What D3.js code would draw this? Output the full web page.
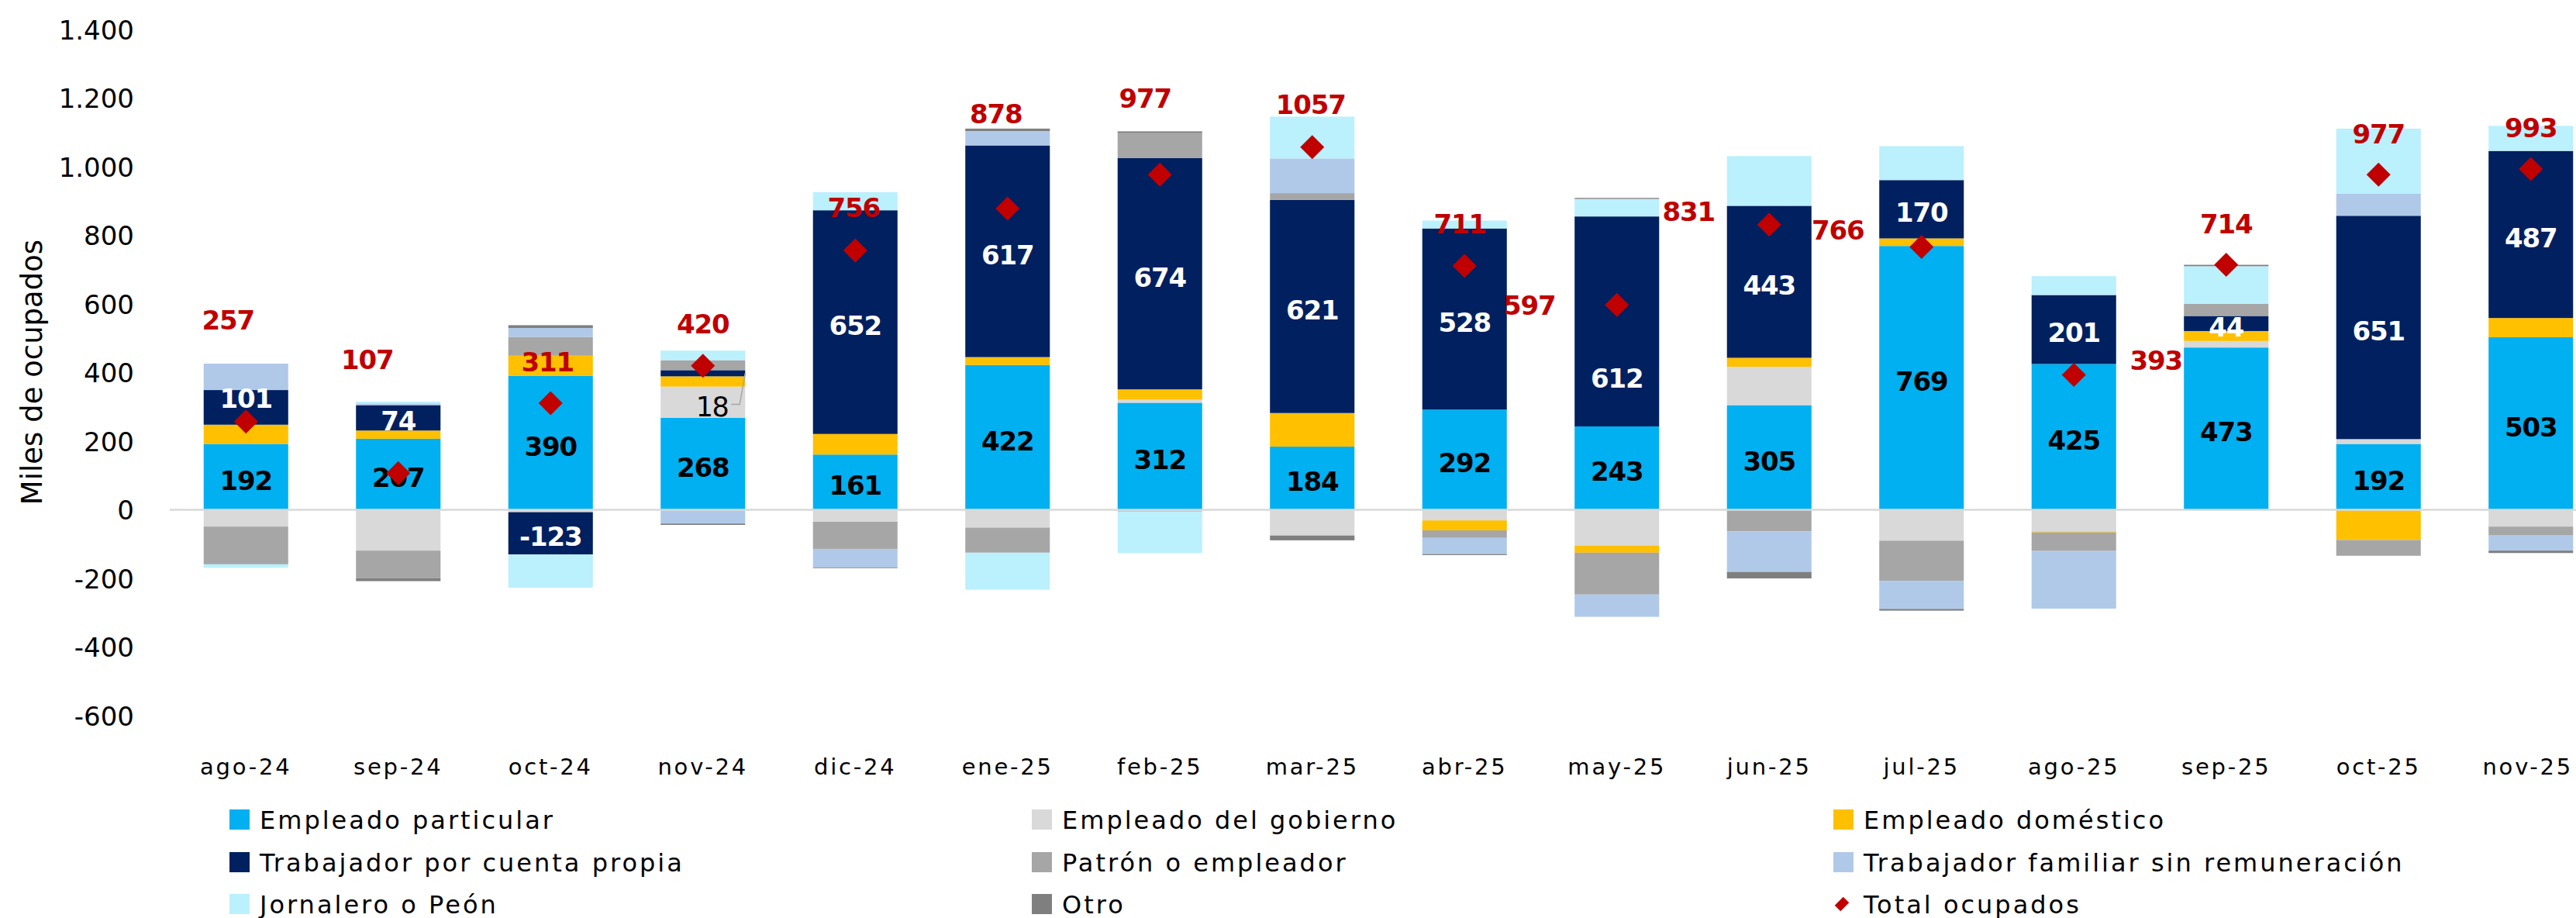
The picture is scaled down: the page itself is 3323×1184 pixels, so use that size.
<!DOCTYPE html>
<html>
<head>
<meta charset="utf-8">
<script src="https://cdn.jsdelivr.net/npm/d3@7/dist/d3.min.js"></script>
<style>
  html, body { margin: 0; padding: 0; background: #ffffff; }
  svg { display: block; font-family: "DejaVu Sans", sans-serif; }
</style>
</head>
<body>
<svg id="chart" width="3323" height="1184"></svg>
<script>
// ---------------- DATA ----------------
const months = ["ago-24","sep-24","oct-24","nov-24","dic-24","ene-25","feb-25","mar-25",
                "abr-25","may-25","jun-25","jul-25","ago-25","sep-25","oct-25","nov-25"];
const seriesNames = ["Empleado particular","Empleado del gobierno","Empleado doméstico",
  "Trabajador por cuenta propia","Patrón o empleador","Trabajador familiar sin remuneración",
  "Jornalero o Peón","Otro"];
const empleadoParticular = [192, 207, 390, 268, 161, 422, 312, 184, 292, 243, 305, 769, 425, 473, 192, 503];
const empleadoGobierno   = [-49, -119, -7, 91, -35, -52, 9, -75, -31, -104, 112, -90, -63, 19, 14, -49];
const empleadoDomestico  = [56, 24, 59, 30, 60, 23, 30, 98, -29, -21, 26, 22, -3, 29, -88, 56];
const cuentaPropia       = [101, 74, -123, 18, 652, 617, 674, 621, 528, 612, 443, 170, 201, 44, 651, 487];
const patronEmpleador    = [-110, -80, 55, 29, -79, -73, 73, 20, -22, -122, -63, -117, -54, 35, -46, -26];
const familiarSinRemun   = [77, 5, 26, -40, -54, 42, -6, 101, -47, -65, -118, -82, -168, 0, 64, -44];
const jornaleroPeon      = [-10, 5, -97, 28, 53, -108, -120, 122, 23, 51, 145, 99, 55, 110, 190, 73];
const otro               = [0, -9, 8, -4, -2, 7, 5, -14, -3, 3, -19, -5, 0, 4, 0, -7];
const totalOcupados      = [257, 107, 311, 420, 756, 878, 977, 1057, 711, 597, 831, 766, 393, 714, 977, 993];
const yTicks = [-600, -400, -200, 0, 200, 400, 600, 800, 1000, 1200, 1400];
const totalLegend = "Total ocupados";
const yTitle = "Miles de ocupados";

// ---------------- STYLE / LAYOUT ----------------
const colors = ["#00B0F0","#D9D9D9","#FFC000","#002060","#A6A6A6","#B0C9E8","#BBF0FD","#7F7F7F"];
const red = "#C00000";
// manual nudges of total labels relative to the marker (px)
const totalNudge = [[-23,-131],[-40,-147],[-4,-53],[0,-54],[-2,-55],[-15,-122],[-19,-99],[-2,-55],
                    [-6,-54],[-113,0],[-104,-17],[-108,-22],[106,-19],[0,-53],[0,-53],[0,-54]];
const cuentaNudge = {0:-16, 9:69};

const keys = seriesNames;
const valueArrays = [empleadoParticular, empleadoGobierno, empleadoDomestico, cuentaPropia,
                     patronEmpleador, familiarSinRemun, jornaleroPeon, otro];
const table = months.map((m, i) => {
  const row = { month: m, total: totalOcupados[i] };
  keys.forEach((k, j) => row[k] = valueArrays[j][i]);
  return row;
});

const svg = d3.select("#chart");
svg.append("rect").attr("width", 3323).attr("height", 1184).attr("fill", "#fff");

const x = d3.scaleBand().domain(months).range([219, 219 + 16 * 196.5])
  .paddingInner(0.445).paddingOuter(0.2225);
const y = d3.scaleLinear().domain([-600, 1400]).range([923, 38]);

const stacked = d3.stack().keys(keys).offset(d3.stackOffsetDiverging)(table);

// bars
const gBars = svg.append("g");
stacked.forEach((s, si) => {
  gBars.append("g").attr("fill", colors[si]).selectAll("rect")
    .data(s).join("rect")
    .attr("x", d => x(d.data.month))
    .attr("width", x.bandwidth())
    .attr("y", d => y(Math.max(d[0], d[1])))
    .attr("height", d => Math.abs(y(d[0]) - y(d[1])));
});

// zero line
svg.append("line").attr("x1", 219).attr("x2", 3323)
  .attr("y1", y(0)).attr("y2", y(0))
  .attr("stroke", "#D9D9D9").attr("stroke-width", 2.5);

// y axis
const locale = d3.formatLocale({decimal: ",", thousands: ".", grouping: [3], currency: ["$", ""], minus: "-"});
const yAxis = d3.axisLeft(y).tickValues(yTicks).tickSize(0).tickPadding(46).tickFormat(locale.format(",.0f"));
const gy = svg.append("g").attr("transform", "translate(219,0)").call(yAxis);
gy.select(".domain").remove();
gy.selectAll("text").attr("font-family", "DejaVu Sans").attr("font-size", 34).attr("fill", "#000")
  .attr("dy", "0.36em");

// x axis
const xAxis = d3.axisBottom(x).tickSize(0);
const gx = svg.append("g").attr("transform", "translate(0,999)").call(xAxis);
gx.select(".domain").remove();
gx.selectAll("text").attr("y", 0).attr("dy", 0).attr("font-family", "DejaVu Sans")
  .attr("font-size", 29).attr("letter-spacing", 2.8).attr("fill", "#000");
gx.selectAll(".tick").filter(d => d === months[months.length - 1])
  .select("text").attr("dx", -4);

// y title
svg.append("text").attr("transform", "translate(54,480) rotate(-90)")
  .attr("text-anchor", "middle").attr("font-size", 37).attr("fill", "#000")
  .text(yTitle);

// inner labels
const labelFont = 34;
const sPart = stacked[0], sCuenta = stacked[3];
svg.append("g").selectAll("text").data(sPart).join("text")
  .attr("x", d => x(d.data.month) + x.bandwidth() / 2)
  .attr("y", d => y((d[0] + d[1]) / 2) + 16.5)
  .attr("text-anchor", "middle").attr("font-weight", "bold").attr("font-size", labelFont)
  .attr("letter-spacing", -1.2).attr("fill", "#000")
  .text(d => d.data[keys[0]]);

svg.append("g").selectAll("text").data(sCuenta.map((d, i) => ({d, i})).filter(o => o.i !== 3)).join("text")
  .attr("x", o => x(o.d.data.month) + x.bandwidth() / 2)
  .attr("y", o => y((o.d[0] + o.d[1]) / 2) + 16.5 + (cuentaNudge[o.i] || 0))
  .attr("text-anchor", "middle").attr("font-weight", "bold").attr("font-size", labelFont)
  .attr("letter-spacing", -1.2).attr("fill", "#fff")
  .text(o => o.d.data[keys[3]]);

// displaced label "18" with leader line (nov-24)
{
  const d = sCuenta[3];
  const right = x(d.data.month) + x.bandwidth();
  const segMid = y((d[0] + d[1]) / 2);
  const ly = segMid + 40;
  svg.append("path")
    .attr("d", `M${right - 18},${ly} L${right - 7},${ly} L${right},${segMid}`)
    .attr("fill", "none").attr("stroke", "#A6A6A6").attr("stroke-width", 1.5);
  svg.append("text").attr("x", right - 22).attr("y", ly + 16)
    .attr("text-anchor", "end").attr("font-size", 35).attr("letter-spacing", -1.5).attr("fill", "#000")
    .text(d.data[keys[3]]);
}

// total markers
const diamond = d3.symbol(d3.symbolSquare, 480);
svg.append("g").selectAll("path").data(table).join("path")
  .attr("d", diamond)
  .attr("transform", d => `translate(${x(d.month) + x.bandwidth() / 2},${y(d.total)}) rotate(45)`)
  .attr("fill", red);

svg.append("g").selectAll("text").data(table).join("text")
  .attr("x", (d, i) => x(d.month) + x.bandwidth() / 2 + totalNudge[i][0])
  .attr("y", (d, i) => y(d.total) + totalNudge[i][1] + 12.5)
  .attr("text-anchor", "middle").attr("font-weight", "bold").attr("font-size", labelFont)
  .attr("letter-spacing", -1.2).attr("fill", red)
  .text(d => d.total);

// legend
const legendItems = seriesNames.map((n, i) => ({name: n, color: colors[i], type: "rect"}));
legendItems.push({name: totalLegend, color: red, type: "diamond"});
const colX = [296, 1331, 2365];
const rowY = [1057, 1112, 1166];
const gl = svg.append("g");
legendItems.forEach((it, i) => {
  const cx = colX[i % 3], cy = rowY[Math.floor(i / 3)];
  if (it.type === "rect") {
    gl.append("rect").attr("x", cx).attr("y", cy - 13).attr("width", 26).attr("height", 26).attr("fill", it.color);
  } else {
    gl.append("path").attr("d", d3.symbol(d3.symbolSquare, 200))
      .attr("transform", `translate(${cx + 11},${cy}) rotate(45) scale(0.75,1.1)`).attr("fill", it.color);
  }
  gl.append("text").attr("x", cx + 39).attr("y", cy + 11.5)
    .attr("font-size", 32).attr("letter-spacing", 3).attr("fill", "#000").text(it.name);
});
</script>
</body>
</html>
